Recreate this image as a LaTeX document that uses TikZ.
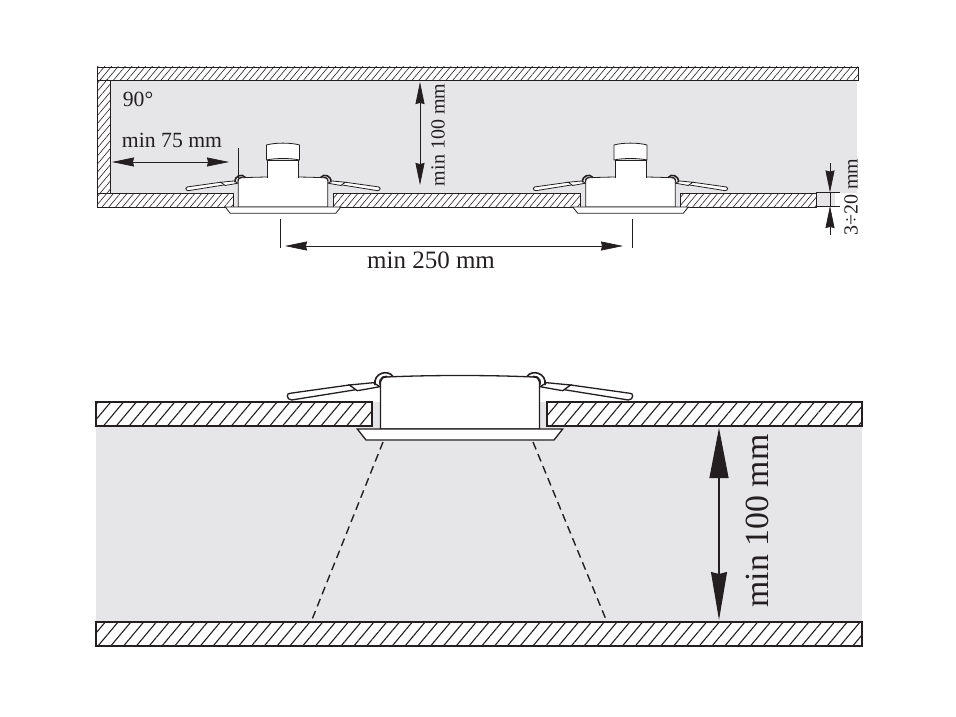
\documentclass[tikz,border=0pt]{standalone}
\usepackage{fontspec}
\setmainfont{Liberation Serif}
\usetikzlibrary{arrows.meta}
\usetikzlibrary{patterns.meta}
\definecolor{inkdark}{HTML}{231F20}
\definecolor{voidgrey}{HTML}{E6E6E8}
\newcommand{\lampclip}{
    \draw[fill=white] (-172.7,-33) .. controls (-172.7,-35) and (-171.5,-35.5) .. (-170,-35.7)
      -- (-110.7,-44) -- (-101.7,-39.7) -- (-168.3,-29)
      .. controls (-171,-29) and (-172.7,-31) .. (-172.7,-33) -- cycle;
    \draw[fill=white] (-110.7,-44) -- (-86.7,-46.3) -- (-80,-42.3) -- (-102.7,-38.3) -- cycle;
    \draw[line width=1.6pt] (-85,-44) .. controls (-87,-56) and (-72,-60) .. (-67,-52.5);
    \draw (-80,-44) .. controls (-82,-52) and (-74,-55) .. (-70,-51);
}
\tikzset{
  slabsmall/.style={draw=inkdark,line width=.9pt,preaction={fill=white},
    pattern={Lines[angle=50,distance=5.2pt,line width=.6pt]},pattern color=inkdark},
  slablarge/.style={draw=inkdark,line width=1.5pt,preaction={fill=white},
    pattern={Lines[angle=50,distance=9.8pt,line width=1.1pt]},pattern color=inkdark},
  dimsmall/.style={draw=inkdark,line width=.7pt,{Stealth[length=22pt,width=9pt,inset=1pt]}-{Stealth[length=22pt,width=9pt,inset=1pt]}},
  dimlarge/.style={draw=inkdark,line width=1.1pt,{Stealth[length=50pt,width=19pt,inset=0pt]}-{Stealth[length=48pt,width=16pt,inset=2pt]}},
  dimhead/.style={draw=inkdark,line width=.7pt,-{Stealth[length=22pt,width=9pt,inset=1pt]}},
  tick/.style={draw=inkdark,line width=.7pt},
  labelsmall/.style={inner sep=0pt,text=inkdark,font=\fontsize{20}{20}\selectfont},
  labelmid/.style={inner sep=0pt,text=inkdark,font=\fontsize{21.7}{22}\selectfont},
  labelwide/.style={inner sep=0pt,text=inkdark,font=\fontsize{25}{25}\selectfont},
  labelbig/.style={inner sep=0pt,text=inkdark,font=\fontsize{33.8}{34}\selectfont},
  lampbody/.pic={
    \lampclip
    \begin{scope}[xscale=-1]
      \lampclip
    \end{scope}
    \draw[fill=white] (-79.5,0) -- (-79.5,-47) .. controls (-79.5,-50) and (-77,-52) .. (-73,-52)
      .. controls (-30,-54) and (30,-54) .. (73,-52)
      .. controls (77,-52) and (79.5,-50) .. (79.5,-47) -- (79.5,0) -- cycle;
    \draw[fill=white] (-102.7,0) -- (102.7,0) -- (94,11) -- (-94,11) -- cycle;
  },
  lampcap/.pic={
    \draw[fill=white] (-15.5,-29) -- (-15.5,-47) -- (15.5,-47) -- (15.5,-29);
    \draw[fill=white] (-16.5,-47) -- (-16.5,-62) .. controls (-8,-64.5) and (8,-64.5) .. (16.5,-62)
      -- (16.5,-47) .. controls (8,-49) and (-8,-49) .. (-16.5,-47) -- cycle;
  }
}
\begin{document}
\begin{tikzpicture}[x=1pt,y=-1pt]
  \useasboundingbox (0,0) rectangle (956,717);

  \fill[voidgrey] (110,80) rectangle (857,193);
  \fill[voidgrey] (816,193) rectangle (835,207);
  \fill[voidgrey] (233,193) rectangle (333,207);
  \fill[voidgrey] (580,193) rectangle (680,207);
  \path[slabsmall] (97,67) rectangle (858,80);
  \path[slabsmall] (97,80) rectangle (110,193);
  \path[slabsmall] (97,193) rectangle (233,207);
  \path[slabsmall] (333,193) rectangle (580,207);
  \path[slabsmall] (680,193) rectangle (816,207);

  \foreach \lampx in {283,630.5} {
    \pic[draw=inkdark,line width=.8pt,scale=.5625] at (\lampx,207) {lampbody};
    \pic[draw=inkdark,line width=.8pt] at (\lampx,207) {lampcap};
  }

  \fill[voidgrey] (96,402) rectangle (862,622);
  \path[slablarge] (96,402) rectangle (372,426);
  \path[slablarge] (547,402) rectangle (862,426);
  \path[slablarge] (96,622) rectangle (862,646);
  \pic[draw=inkdark,line width=1.3pt] at (460,429) {lampbody};

  \coordinate (beamlefttop) at (383,442);
  \coordinate (beamleftend) at (311,622);
  \coordinate (beamrighttop) at (533,442);
  \coordinate (beamrightend) at (607,622);
  \draw[inkdark,line width=1.4pt,dash pattern=on 8pt off 5pt] (beamlefttop) -- (beamleftend);
  \draw[inkdark,line width=1.4pt,dash pattern=on 8pt off 5pt] (beamrighttop) -- (beamrightend);

  \coordinate (wallgaptop) at (238,148);
  \coordinate (wallgapend) at (238,178);
  \coordinate (wallarrowa) at (112,162);
  \coordinate (wallarrowb) at (229,162);
  \draw[tick] (wallgaptop) -- (wallgapend);
  \draw[dimsmall] (wallarrowa) -- (wallarrowb);

  \coordinate (ticklefttop) at (280,219);
  \coordinate (tickleftend) at (280,248);
  \coordinate (tickrighttop) at (632,219);
  \coordinate (tickrightend) at (632,248);
  \coordinate (spanarrowa) at (285,246);
  \coordinate (spanarrowb) at (623,246);
  \draw[tick] (ticklefttop) -- (tickleftend);
  \draw[tick] (tickrighttop) -- (tickrightend);
  \draw[dimsmall] (spanarrowa) -- (spanarrowb);

  \coordinate (deptharrowa) at (420,82);
  \coordinate (deptharrowb) at (420,185);
  \draw[dimsmall] (deptharrowa) -- (deptharrowb);

  \coordinate (edgetopa) at (816,192.5);
  \coordinate (edgetopb) at (840,192.5);
  \coordinate (edgelowa) at (816,206);
  \coordinate (edgelowb) at (840,206);
  \coordinate (thickuptail) at (830,163);
  \coordinate (thicklowtail) at (830,235);
  \draw[tick] (edgetopa) -- (edgetopb);
  \draw[tick] (edgelowa) -- (edgelowb);
  \draw[tick] (edgetopb -| thickuptail) -- (edgelowb -| thickuptail);
  \draw[dimhead] (thickuptail) -- (edgetopb -| thickuptail);
  \draw[dimhead] (thicklowtail) -- (edgelowb -| thicklowtail);

  \coordinate (bigarrowa) at (719,428);
  \coordinate (bigarrowb) at (719,620);
  \draw[dimlarge] (bigarrowa) -- (bigarrowb);

  \node[labelmid] (anglelabel) at (138,99) {90°};
  \node[labelmid] (walllabel) at (172,140) {min 75 mm};
  \node[labelwide] (spanlabel) at (431,260) {min 250 mm};
  \node[labelsmall,rotate=90] (depthlabel) at (438,135) {min 100 mm};
  \node[labelsmall,rotate=90] (thicklabel) at (851,197) {3÷20 mm};
  \node[labelbig,rotate=90] (biglabel) at (757,521) {min 100 mm};
\end{tikzpicture}
\end{document}
